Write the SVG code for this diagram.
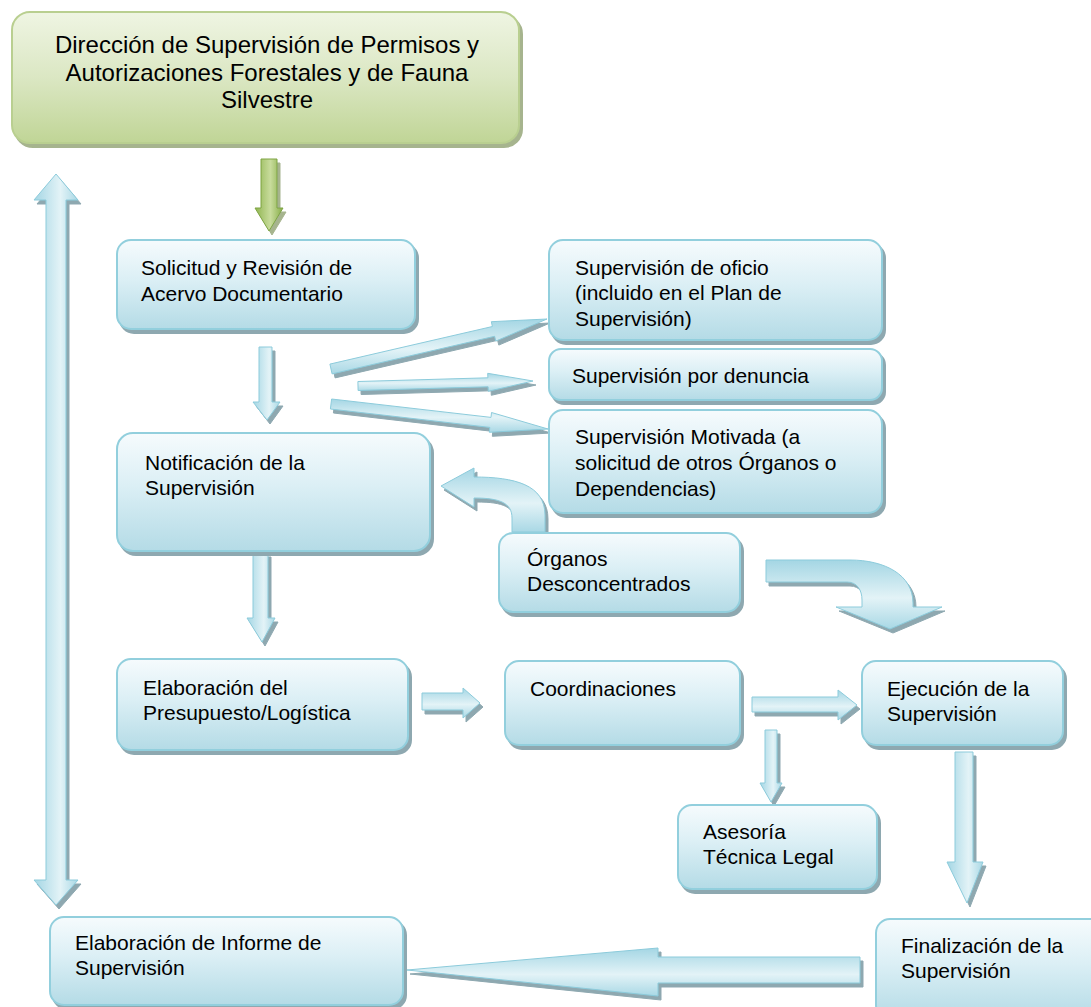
<svg xmlns="http://www.w3.org/2000/svg" width="1091" height="1007" viewBox="0 0 1091 1007">
<defs>
<linearGradient id="boxG" x1="0" y1="0" x2="0" y2="1">
<stop offset="0" stop-color="#f6fbfd"/><stop offset="0.45" stop-color="#dbeff5"/><stop offset="1" stop-color="#b4dbe6"/>
</linearGradient>
<linearGradient id="greenG" x1="0" y1="0" x2="0" y2="1">
<stop offset="0" stop-color="#eff5e3"/><stop offset="0.5" stop-color="#dbe7c3"/><stop offset="1" stop-color="#c0d596"/>
</linearGradient>
<linearGradient id="greenArr" x1="0" y1="0" x2="1" y2="0">
<stop offset="0" stop-color="#8fb450"/><stop offset="0.55" stop-color="#c8dc9c"/><stop offset="1" stop-color="#86ad48"/>
</linearGradient>
<linearGradient id="arrV" x1="0" y1="0" x2="1" y2="0">
<stop offset="0" stop-color="#a4d6e4"/><stop offset="0.6" stop-color="#e3f3f7"/><stop offset="1" stop-color="#a9d8e5"/>
</linearGradient>
<linearGradient id="arrH" x1="0" y1="0" x2="0" y2="1">
<stop offset="0" stop-color="#a4d6e4"/><stop offset="0.55" stop-color="#e3f3f7"/><stop offset="1" stop-color="#a9d8e5"/>
</linearGradient>
<filter id="sh" filterUnits="userSpaceOnUse" x="0" y="0" width="1091" height="1007">
<feFlood flood-color="#8ea8b0"/><feComposite in2="SourceAlpha" operator="in"/><feOffset dx="3" dy="4"/>
<feMerge><feMergeNode/><feMergeNode in="SourceGraphic"/></feMerge>
</filter>
<filter id="shG" filterUnits="userSpaceOnUse" x="0" y="0" width="1091" height="1007">
<feFlood flood-color="#a6b48e"/><feComposite in2="SourceAlpha" operator="in"/><feOffset dx="3" dy="4"/>
<feMerge><feMergeNode/><feMergeNode in="SourceGraphic"/></feMerge>
</filter>
</defs>
<style>
.box{fill:url(#boxG);stroke:#92cfdd;stroke-width:2;filter:url(#sh)}
.gbox{fill:url(#greenG);stroke:#b9cf90;stroke-width:2;filter:url(#shG)}
.av{fill:url(#arrV);stroke:#8ccbdb;stroke-width:1;filter:url(#sh)}
.ah{fill:url(#arrH);stroke:#8ccbdb;stroke-width:1;filter:url(#sh)}
.ag{fill:url(#greenArr);stroke:#7ea443;stroke-width:1;filter:url(#shG)}
text{font-family:"Liberation Sans",Arial,sans-serif;font-size:21px;fill:#000}
.t{font-size:24px;text-anchor:middle}
</style>
<rect width="1091" height="1007" fill="#ffffff"/>

<g id="connectors">
<path class="ag" d="M261,159 L277,159 L277,208 L283,208 L269,231 L255,208 L261,208 Z"/>
<path class="av" d="M56,174 L78,200 L66,200 L66,880 L78,880 L56,905 L34,880 L46,880 L46,200 L34,200 Z"/>
<path class="av" d="M259,347 L272,347 L272,402 L280,402 L267,420 L253,402 L259,402 Z"/>
<path class="ah" d="M329.9,364.1 L492.4,326.5 L491.3,321.7 L547,319 L495.8,341.1 L494.6,336.3 L332.1,373.9 Z"/>
<path class="ah" d="M357.9,381.5 L487.9,377.8 L487.7,373.3 L533,381 L488.3,391.3 L488.1,386.8 L358.1,390.5 Z"/>
<path class="ah" d="M331.6,399 L491,417.4 L491.5,412.5 L548,429 L489.3,432.3 L489.8,427.4 L330.4,409 Z"/>
<path class="av" d="M253,553 L268,553 L268,618 L275,618 L262,642 L247,618 L253,618 Z"/>
<path class="ah" d="M441,486 L474,468 L474,477 C515,477 545,485 545,515 L545,532 L512,532 L512,518 C512,503 500,498 474,498 L474,507 Z"/>
<path class="ah" d="M766,560 L850,560 C885,560 913,575 913,603 L913,607 L942,607 L890,629 L836,607 L862,607 L862,600 C862,590 857,582 847,582 L766,582 Z"/>
<path class="ah" d="M422,693 L463,693 L463,688 L480,703 L463,718 L463,710 L422,710 Z"/>
<path class="ah" d="M752,697 L838,697 L838,690 L857,705 L838,720 L838,712 L752,712 Z"/>
<path class="av" d="M765,730 L777,730 L777,783 L782,783 L771,802 L760,783 L765,783 Z"/>
<path class="av" d="M955,752 L973,752 L973,862 L983,862 L967,903 L947,862 L955,862 Z"/>
<path class="ah" d="M860,957 L658,957 L658,948 L407,970 L658,996 L658,983 L860,983 Z"/>
</g>

<g id="n-direccion">
<rect class="gbox" x="12" y="12" width="507" height="131" rx="18"/>
<text class="t" x="267" y="53">Dirección de Supervisión de Permisos y</text>
<text class="t" x="267" y="81">Autorizaciones Forestales y de Fauna</text>
<text class="t" x="267" y="108">Silvestre</text>
</g>
<g id="n-solicitud">
<rect class="box" x="117" y="240" width="298" height="89" rx="14"/>
<text x="141" y="275">Solicitud y Revisión de</text>
<text x="141" y="301">Acervo Documentario</text>
</g>
<g id="n-oficio">
<rect class="box" x="549" y="240" width="333" height="100" rx="14"/>
<text x="575" y="275">Supervisión de  oficio</text>
<text x="575" y="300">(incluido en el Plan de</text>
<text x="575" y="326">Supervisión)</text>
</g>
<g id="n-denuncia">
<rect class="box" x="549" y="349" width="333" height="51" rx="12"/>
<text x="572" y="383">Supervisión por denuncia</text>
</g>
<g id="n-motivada">
<rect class="box" x="549" y="410" width="333" height="103" rx="14"/>
<text x="575" y="444">Supervisión  Motivada (a</text>
<text x="575" y="470">solicitud de otros Órganos o</text>
<text x="575" y="496">Dependencias)</text>
</g>
<g id="n-notificacion">
<rect class="box" x="117" y="433" width="313" height="118" rx="16"/>
<text x="145" y="470">Notificación de la</text>
<text x="145" y="495">Supervisión</text>
</g>
<g id="n-organos">
<rect class="box" x="499" y="533" width="241" height="79" rx="14"/>
<text x="527" y="566">Órganos</text>
<text x="527" y="591">Desconcentrados</text>
</g>
<g id="n-presupuesto">
<rect class="box" x="117" y="659" width="291" height="91" rx="14"/>
<text x="143" y="695">Elaboración del</text>
<text x="143" y="720">Presupuesto/Logística</text>
</g>
<g id="n-coordinaciones">
<rect class="box" x="505" y="661" width="235" height="84" rx="14"/>
<text x="530" y="696">Coordinaciones</text>
</g>
<g id="n-ejecucion">
<rect class="box" x="862" y="661" width="201" height="84" rx="14"/>
<text x="887" y="696">Ejecución de la</text>
<text x="887" y="721">Supervisión</text>
</g>
<g id="n-asesoria">
<rect class="box" x="678" y="805" width="199" height="84" rx="14"/>
<text x="703" y="839">Asesoría</text>
<text x="703" y="864">Técnica Legal</text>
</g>
<g id="n-informe">
<rect class="box" x="50" y="917" width="353" height="88" rx="14"/>
<text x="75" y="950">Elaboración de  Informe de</text>
<text x="75" y="975">Supervisión</text>
</g>
<g id="n-finalizacion">
<rect class="box" x="876" y="919" width="230" height="100" rx="14"/>
<text x="901" y="953">Finalización de la</text>
<text x="901" y="978">Supervisión</text>
</g>
</svg>
